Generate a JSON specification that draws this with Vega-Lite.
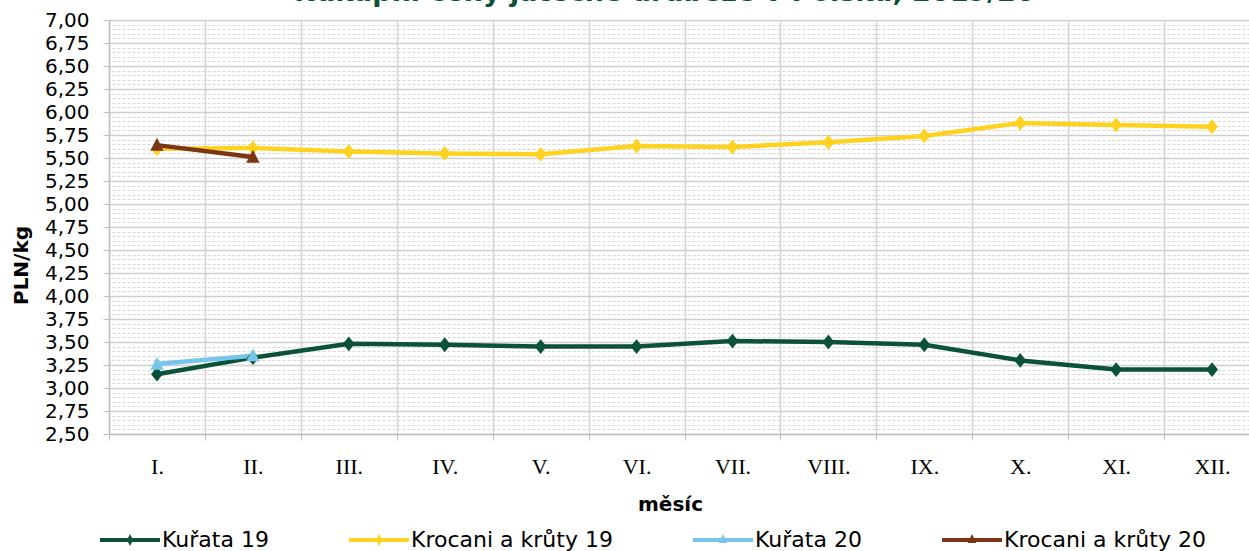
{
  "$schema": "https://vega.github.io/schema/vega-lite/v6.json",
  "width": 1151,
  "height": 414,
  "autosize": {"type": "none"},
  "padding": {"left": 109, "top": 20, "right": 0, "bottom": 117},
  "background": "white",
  "title": {
    "text": "Nákupní ceny jatečné drůbeže v Polsku, 2019/20",
    "font": "DejaVu Sans",
    "fontSize": 27,
    "fontWeight": "bold",
    "color": "#0B5238",
    "baseline": "alphabetic",
    "offset": 2,
    "dy": 20,
    "dx": -20,
    "anchor": "middle"
  },
  "config": {"view": {"stroke": null}},
  "data": {
    "values": [
      {"mesic": "I.", "serie": "Kuřata 19", "cena": 3.15},
      {"mesic": "II.", "serie": "Kuřata 19", "cena": 3.33},
      {"mesic": "III.", "serie": "Kuřata 19", "cena": 3.48},
      {"mesic": "IV.", "serie": "Kuřata 19", "cena": 3.47},
      {"mesic": "V.", "serie": "Kuřata 19", "cena": 3.45},
      {"mesic": "VI.", "serie": "Kuřata 19", "cena": 3.45},
      {"mesic": "VII.", "serie": "Kuřata 19", "cena": 3.51},
      {"mesic": "VIII.", "serie": "Kuřata 19", "cena": 3.5},
      {"mesic": "IX.", "serie": "Kuřata 19", "cena": 3.47},
      {"mesic": "X.", "serie": "Kuřata 19", "cena": 3.3},
      {"mesic": "XI.", "serie": "Kuřata 19", "cena": 3.2},
      {"mesic": "XII.", "serie": "Kuřata 19", "cena": 3.2},
      {"mesic": "I.", "serie": "Krocani a krůty 19", "cena": 5.6},
      {"mesic": "II.", "serie": "Krocani a krůty 19", "cena": 5.61},
      {"mesic": "III.", "serie": "Krocani a krůty 19", "cena": 5.57},
      {"mesic": "IV.", "serie": "Krocani a krůty 19", "cena": 5.55},
      {"mesic": "V.", "serie": "Krocani a krůty 19", "cena": 5.54},
      {"mesic": "VI.", "serie": "Krocani a krůty 19", "cena": 5.63},
      {"mesic": "VII.", "serie": "Krocani a krůty 19", "cena": 5.62},
      {"mesic": "VIII.", "serie": "Krocani a krůty 19", "cena": 5.67},
      {"mesic": "IX.", "serie": "Krocani a krůty 19", "cena": 5.74},
      {"mesic": "X.", "serie": "Krocani a krůty 19", "cena": 5.88},
      {"mesic": "XI.", "serie": "Krocani a krůty 19", "cena": 5.86},
      {"mesic": "XII.", "serie": "Krocani a krůty 19", "cena": 5.84},
      {"mesic": "I.", "serie": "Kuřata 20", "cena": 3.26},
      {"mesic": "II.", "serie": "Kuřata 20", "cena": 3.35},
      {"mesic": "I.", "serie": "Krocani a krůty 20", "cena": 5.64},
      {"mesic": "II.", "serie": "Krocani a krůty 20", "cena": 5.51}
    ]
  },
  "encoding": {
    "x": {
      "field": "mesic",
      "type": "ordinal",
      "sort": ["I.", "II.", "III.", "IV.", "V.", "VI.", "VII.", "VIII.", "IX.", "X.", "XI.", "XII."],
      "scale": {"type": "band", "paddingInner": 0, "paddingOuter": 0},
      "bandPosition": 0.5,
      "axis": {
        "title": "měsíc",
        "titleFont": "DejaVu Sans",
        "titleFontSize": 20,
        "titleFontWeight": "bold",
        "titleColor": "#000000",
        "titleX": 561,
        "titleY": 76,
        "titleBaseline": "alphabetic",
        "labelFont": "Liberation Serif",
        "labelFontSize": 22,
        "labelColor": "#000000",
        "labelAngle": 0,
        "labelPadding": 16,
        "tickBand": "extent",
        "grid": true,
        "gridColor": "#d4d4d4",
        "gridWidth": 1.5,
        "domainColor": "#bfbfbf",
        "domainWidth": 1.5,
        "tickColor": "#bfbfbf",
        "tickSize": 6
      }
    },
    "color": {
      "field": "serie",
      "type": "nominal",
      "scale": {
        "domain": ["Kuřata 19", "Krocani a krůty 19", "Kuřata 20", "Krocani a krůty 20"],
        "range": ["#0B5238", "#FFD21F", "#75C6EA", "#7B3512"]
      },
      "legend": {
        "orient": "none",
        "legendX": -9,
        "legendY": 490,
        "direction": "horizontal",
        "columns": 4,
        "title": null,
        "padding": 0,
        "labelFont": "DejaVu Sans",
        "labelFontSize": 22,
        "labelColor": "#000000",
        "labelLimit": 0,
        "labelOffset": 2,
        "columnPadding": 80,
        "symbolSize": 3600,
        "symbolStrokeWidth": 0,
        "encode": {
          "symbols": {
            "update": {
              "fill": {"scale": "color", "field": "value"},
              "strokeWidth": {"value": 0},
              "opacity": {"value": 1},
              "shape": {"signal": "indexof(['Kuřata 20','Krocani a krůty 20'], datum.value) >= 0 ? 'M-1,-0.065H1V0.065H-1Z M0,-0.2L0.15,0.1L-0.15,0.1Z' : 'M-1,-0.065H1V0.065H-1Z M0,-0.2L0.1,0L0,0.2L-0.1,0Z'"}
            }
          }
        }
      }
    }
  },
  "layer": [
    {
      "mark": {"type": "line", "strokeWidth": 4.5},
      "encoding": {
        "y": {
          "field": "cena",
          "type": "quantitative",
          "scale": {"domain": [2.5, 7], "nice": false, "zero": false},
          "axis": {
            "title": "PLN/kg",
            "titleFont": "DejaVu Sans",
            "titleFontSize": 20,
            "titleFontWeight": "bold",
            "titleColor": "#000000",
            "titleX": -88,
            "titleY": 245,
            "titleAngle": 270,
            "titleAlign": "center",
            "titleBaseline": "middle",
            "values": [2.5, 2.75, 3, 3.25, 3.5, 3.75, 4, 4.25, 4.5, 4.75, 5, 5.25, 5.5, 5.75, 6, 6.25, 6.5, 6.75, 7],
            "labelExpr": "replace(format(datum.value, '.2f'), '.', ',')",
            "labelFont": "DejaVu Sans",
            "labelFontSize": 20,
            "labelColor": "#000000",
            "labelOverlap": false,
            "labelPadding": 14,
            "tickSize": 6,
            "tickColor": "#bfbfbf",
            "domainColor": "#bfbfbf",
            "domainWidth": 1.5,
            "grid": true,
            "gridColor": "#cfcfcf",
            "gridWidth": 1.5
          }
        }
      }
    },
    {
      "transform": [{"filter": "indexof(['Kuřata 19','Krocani a krůty 19'], datum.serie) >= 0"}],
      "mark": {"type": "point", "filled": true, "opacity": 1, "size": 220, "shape": "M0,-1L0.8,0L0,1L-0.8,0Z"},
      "encoding": {
        "y": {
          "field": "cena",
          "type": "quantitative",
          "scale": {"domain": [2.5, 7], "nice": false, "zero": false},
          "axis": {
            "title": null,
            "labels": false,
            "ticks": false,
            "domain": false,
            "grid": true,
            "gridColor": "#d6d6d6",
            "gridWidth": 1,
            "gridDash": [3, 2],
            "values": [2.55, 2.6, 2.65, 2.7, 2.8, 2.85, 2.9, 2.95, 3.05, 3.1, 3.15, 3.2, 3.3, 3.35, 3.4, 3.45, 3.55, 3.6, 3.65, 3.7, 3.8, 3.85, 3.9, 3.95, 4.05, 4.1, 4.15, 4.2, 4.3, 4.35, 4.4, 4.45, 4.55, 4.6, 4.65, 4.7, 4.8, 4.85, 4.9, 4.95, 5.05, 5.1, 5.15, 5.2, 5.3, 5.35, 5.4, 5.45, 5.55, 5.6, 5.65, 5.7, 5.8, 5.85, 5.9, 5.95, 6.05, 6.1, 6.15, 6.2, 6.3, 6.35, 6.4, 6.45, 6.55, 6.6, 6.65, 6.7, 6.8, 6.85, 6.9, 6.95]
          }
        }
      }
    },
    {
      "transform": [{"filter": "indexof(['Kuřata 20','Krocani a krůty 20'], datum.serie) >= 0"}],
      "mark": {"type": "point", "filled": true, "opacity": 1, "size": 220, "shape": "M0,-1L0.9,0.75L-0.9,0.75Z"},
      "encoding": {
        "y": {
          "field": "cena",
          "type": "quantitative",
          "scale": {"domain": [2.5, 7], "nice": false, "zero": false},
          "axis": null
        }
      }
    }
  ],
  "resolve": {"axis": {"y": "independent"}}
}
